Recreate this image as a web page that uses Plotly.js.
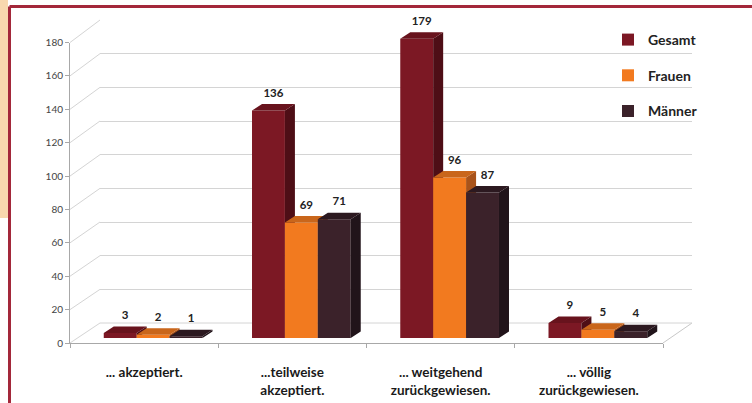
<!DOCTYPE html>
<html>
<head>
<meta charset="utf-8">
<script src="https://cdn.plot.ly/plotly-3.0.1.min.js"></script>
<style>html,body{margin:0;padding:0;background:#fff;}#chart{width:752px;height:403px;}</style>
</head>
<body>
<div id="chart"></div>
<script>
// ---- data ----
const categories = ['... akzeptiert.', '...teilweise<br>akzeptiert.', '... weitgehend<br>zurückgewiesen.', '... völlig<br>zurückgewiesen.'];
const seriesNames = ['Gesamt', 'Frauen', 'Männer'];
const gesamt = [3, 136, 179, 9];
const frauen = [2, 69, 96, 5];
const maenner = [1, 71, 87, 4];
const yTicks = [0, 20, 40, 60, 80, 100, 120, 140, 160, 180];

// ---- styling / geometry ----
const W = 752, H = 403;
const fx = p => p / W, fy = p => 1 - p / H;
const front = {L: 70, R: 663, B: 343, T: 42.5};
const back = {L: 100, R: 692, B: 323, T: 20};
const barBox = {L: 79, R: 672, B: 338, T: 37};
const yMax = 180;
const barYMax = 200; // extra headroom for value labels (same scale)
const catW = (barBox.R - barBox.L) / categories.length;
const pxPerUnit = (barBox.B - barBox.T) / yMax;
const barW = 0.222;
const dx = 10 / catW;         // depth in x units
const dy = 6.5 / pxPerUnit;   // depth in y units
const labelLift = 4.5 / pxPerUnit;
const colors = {
  front: ['#7c1824', '#f27a1f', '#3b222a'],
  top:   ['#68131d', '#c9661b', '#2c1920'],
  side:  ['#4e0e16', '#a9531a', '#21141a']
};
const seriesValues = [gesamt, frauen, maenner];
const idx = categories.map((c, i) => i);

const traces = [];
traces.push({type: 'scatter', x: [], y: [], xaxis: 'x2', yaxis: 'y2', showlegend: false, hoverinfo: 'skip'});
traces.push({type: 'scatter', x: [], y: [], xaxis: 'x', yaxis: 'y', showlegend: false, hoverinfo: 'skip'});

seriesValues.forEach((vals, s) => {
  const ax = 'x' + (3 + s), ay = 'y' + (3 + s);
  const off = -1.5 * barW + s * barW;
  traces.push({
    type: 'bar', name: seriesNames[s], x: idx, y: vals, width: barW, offset: off,
    marker: {color: colors.front[s], line: {width: 0}}, xaxis: ax, yaxis: ay,
    legendgroup: 'g' + s, hoverinfo: 'skip'
  });
  const sx = [], sy = [], tx = [], ty = [];
  vals.forEach((v, i) => {
    const xl = i + off, xr = xl + barW;
    sx.push(xr, xr + dx, xr + dx, xr, xr, null);
    sy.push(0, dy, v + dy, v, 0, null);
    tx.push(xl, xr, xr + dx, xl + dx, xl, null);
    ty.push(v, v, v + dy, v + dy, v, null);
  });
  traces.push({type: 'scatter', mode: 'lines', x: sx, y: sy, fill: 'toself', fillcolor: colors.side[s],
    line: {width: 0, color: colors.side[s]}, xaxis: ax, yaxis: ay, showlegend: false, hoverinfo: 'skip', legendgroup: 'g' + s});
  traces.push({type: 'scatter', mode: 'lines', x: tx, y: ty, fill: 'toself', fillcolor: colors.top[s],
    line: {width: 0, color: colors.top[s]}, xaxis: ax, yaxis: ay, showlegend: false, hoverinfo: 'skip', legendgroup: 'g' + s});
  traces.push({type: 'scatter', mode: 'text', x: vals.map((v, i) => i + off + barW / 2 + dx / 2),
    y: vals.map(v => v + dy + labelLift), text: vals.map(String), textposition: 'top center',
    textfont: {family: 'Lato, sans-serif', size: 11.5, color: '#222', weight: 'bold'},
    xaxis: ax, yaxis: ay, showlegend: false, hoverinfo: 'skip', legendgroup: 'g' + s, cliponaxis: false});
});

const hidden = (dom, extra) => Object.assign({domain: dom, range: [-0.5, categories.length - 0.5], visible: false, fixedrange: true}, extra || {});
const hiddenY = (dom, extra) => Object.assign({domain: dom, range: [0, barYMax], visible: false, fixedrange: true}, extra || {});

const barXDom = [fx(barBox.L), fx(barBox.R)];
const barYDom = [fy(barBox.B), fy(barBox.B - barYMax * pxPerUnit)];

const shapes = [];
shapes.push({type: 'rect', xref: 'paper', yref: 'paper', x0: 0, x1: fx(8), y0: fy(218), y1: 1, fillcolor: '#f8d8ae', line: {width: 0}, layer: 'below'});
shapes.push({type: 'line', xref: 'paper', yref: 'paper', x0: fx(9.5), x1: 1, y0: fy(6.5), y1: fy(6.5), line: {color: '#a3283a', width: 3}, layer: 'below'});
shapes.push({type: 'line', xref: 'paper', yref: 'paper', x0: fx(9.5), x1: fx(9.5), y0: fy(6.5), y1: 0, line: {color: '#a3283a', width: 3}, layer: 'below'});
yTicks.forEach(t => {
  const yA = fy(front.B - (front.B - front.T) * t / yMax);
  const yB = fy(back.B - (back.B - back.T) * t / yMax);
  shapes.push({type: 'line', xref: 'paper', yref: 'paper', x0: fx(front.L), x1: fx(back.L), y0: yA, y1: yB, line: {color: '#d4d4d4', width: 1}, layer: 'below'});
});
shapes.push({type: 'line', xref: 'paper', yref: 'paper', x0: fx(front.R), x1: fx(back.R), y0: fy(front.B), y1: fy(back.B), line: {color: '#c8c8c8', width: 1}, layer: 'below'});
shapes.push({type: 'line', xref: 'paper', yref: 'paper', x0: fx(back.L), x1: fx(back.R), y0: fy(back.B), y1: fy(back.B), line: {color: '#d4d4d4', width: 1}, layer: 'below'});

const layout = {
  width: W, height: H,
  margin: {l: 0, r: 0, t: 0, b: 0},
  paper_bgcolor: '#ffffff', plot_bgcolor: 'rgba(0,0,0,0)',
  font: {family: 'Lato, sans-serif', color: '#222'},
  showlegend: true,
  legend: {x: fx(608), y: fy(24), xanchor: 'left', yanchor: 'top', tracegroupgap: 14.5,
    font: {family: 'Lato, sans-serif', size: 14, color: '#222', weight: 'bold'}, bgcolor: 'rgba(0,0,0,0)'},
  xaxis: {domain: [fx(front.L), fx(front.R)], range: [-0.5, categories.length - 0.5], tickmode: 'array',
    tickvals: idx, ticktext: categories, ticks: '', showline: true, linecolor: '#a8a8a8', linewidth: 1,
    showgrid: false, zeroline: false, fixedrange: true, anchor: 'y', ticklabelstandoff: 17,
    tickfont: {family: 'Lato, sans-serif', size: 13.5, color: '#1a1a1a', weight: 'bold'},
    minor: {tickmode: 'linear', tick0: 0.5, dtick: 1, ticks: 'outside', ticklen: 4, tickcolor: '#a8a8a8', showgrid: false}},
  yaxis: {domain: [fy(front.B), fy(front.T)], range: [0, yMax], tickmode: 'array', tickvals: yTicks,
    ticks: 'outside', ticklen: 4, tickcolor: '#a8a8a8', showline: true, linecolor: '#a8a8a8', linewidth: 1,
    showgrid: false, zeroline: false, fixedrange: true, anchor: 'x',
    tickfont: {family: 'Lato, sans-serif', size: 10, color: '#444'}},
  xaxis2: {domain: [fx(back.L), fx(back.R)], range: [-0.5, categories.length - 0.5], showgrid: false, showline: false,
    showticklabels: false, ticks: '', zeroline: false, fixedrange: true, anchor: 'y2'},
  yaxis2: {domain: [fy(back.B), fy(back.T)], range: [0, yMax], tickmode: 'array', tickvals: yTicks, showgrid: true,
    gridcolor: '#d4d4d4', gridwidth: 1, showline: false, showticklabels: false, ticks: '', zeroline: false, fixedrange: true, anchor: 'x2'},
  xaxis3: hidden(barXDom, {anchor: 'y3'}),
  yaxis3: hiddenY(barYDom, {anchor: 'x3'}),
  xaxis4: hidden(barXDom, {anchor: 'y4', overlaying: 'x3'}),
  yaxis4: hiddenY(barYDom, {anchor: 'x4', overlaying: 'y3'}),
  xaxis5: hidden(barXDom, {anchor: 'y5', overlaying: 'x3'}),
  yaxis5: hiddenY(barYDom, {anchor: 'x5', overlaying: 'y3'}),
  shapes: shapes
};

Plotly.newPlot('chart', traces, layout, {staticPlot: true, displayModeBar: false});
</script>
</body>
</html>
